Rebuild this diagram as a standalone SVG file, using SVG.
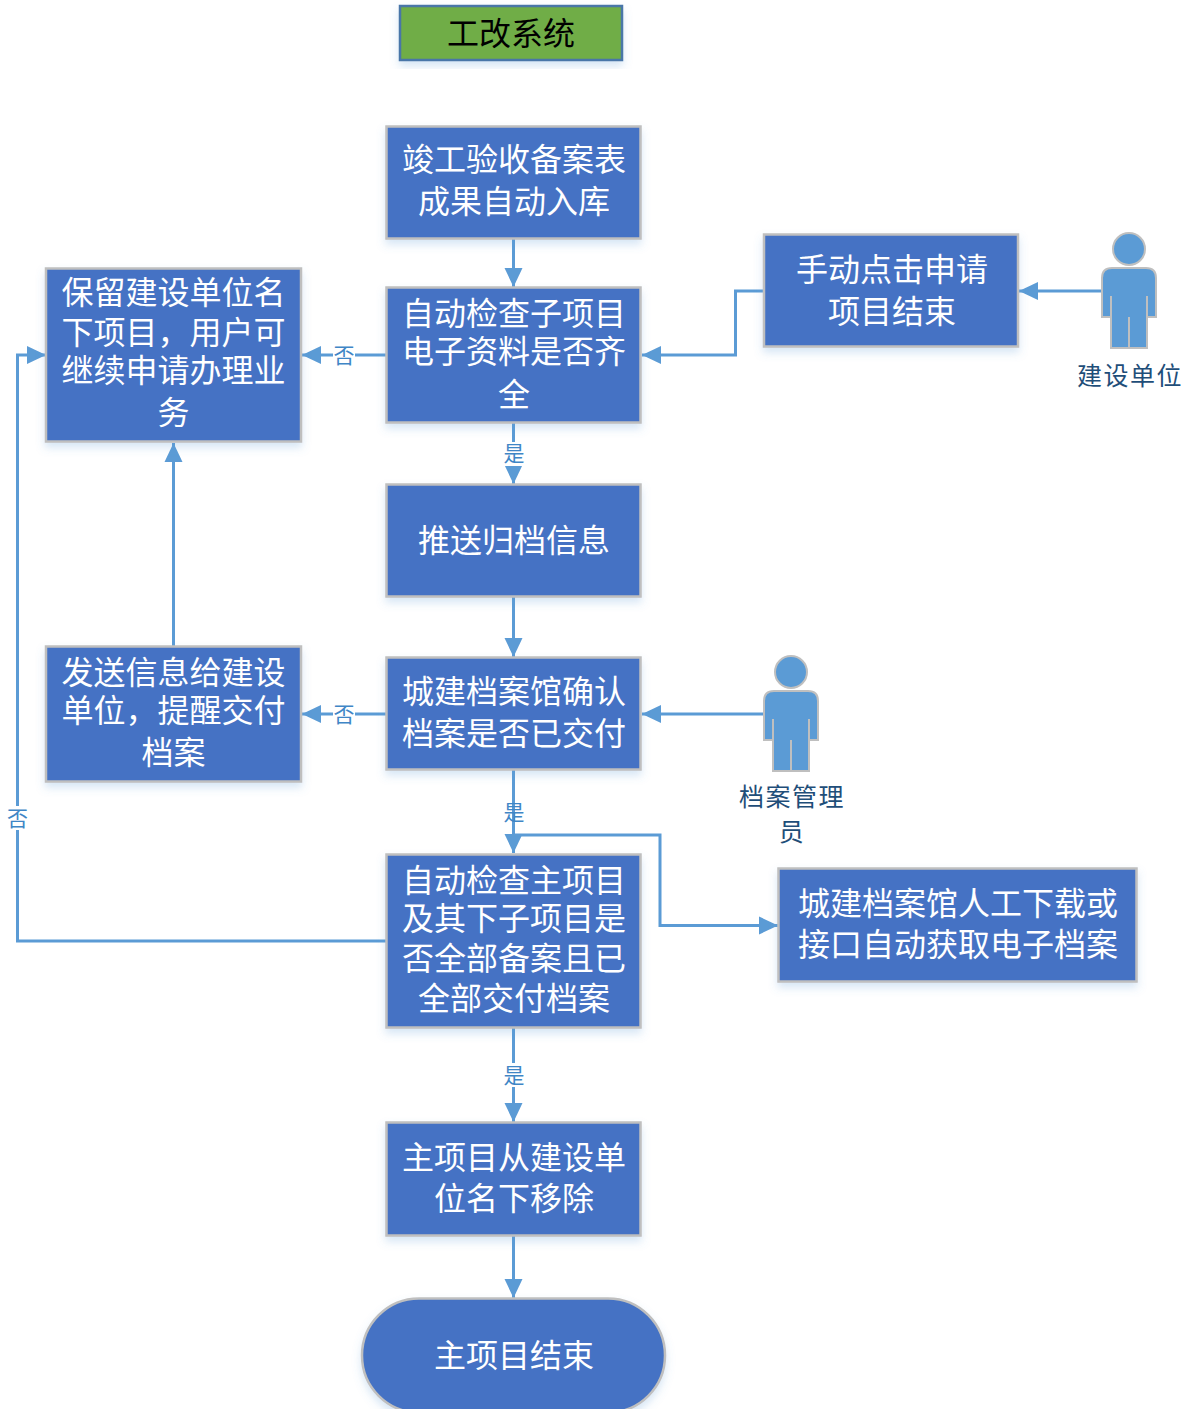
<svg xmlns="http://www.w3.org/2000/svg" width="1185" height="1409" viewBox="0 0 1185 1409">
<style>
text{font-family:"Liberation Sans","Noto Sans CJK SC",sans-serif;text-anchor:middle}
.n{fill:#4472c4;stroke:#bfbfbf;stroke-width:2.5;filter:url(#s)}
.t{fill:#fff;font-size:32px}
.c{fill:none;stroke:#5b9bd5;stroke-width:3;marker-end:url(#a)}
.l{fill:#3f86c6;font-size:21px}
.p{fill:#1f4e79;font-size:25px;letter-spacing:1.500px}
.b{fill:#fff}
.h{fill:#5b9bd5;stroke:#bfbfbf;stroke-width:2}
</style>
<defs>
<filter id="s" x="-10%" y="-10%" width="120%" height="125%"><feDropShadow dx="0" dy="5" stdDeviation="4" flood-color="#5b9bd5" flood-opacity="0.25"/></filter>
<marker id="a" markerUnits="userSpaceOnUse" markerWidth="20" markerHeight="20" refX="19" refY="10" orient="auto"><path d="M0 1 L19 10 L0 19 Z" fill="#5b9bd5"/></marker>
<g id="person"><circle cx="28" cy="14" r="16" class="h"/><path class="h" d="M1 43 Q1 33 11 33 H45 Q55 33 55 43 V82 H46 V113 H10 V82 H1 Z"/><path d="M10 61 V82 M46 61 V82 M28 82 V113" fill="none" stroke="#bfbfbf" stroke-width="2"/></g>
</defs>
<g id="connectors">
<path class="c" d="M513.500 239 V287"/>
<path class="c" d="M764 291 H735.500 V355 H642"/>
<path class="c" d="M1102 291 H1019"/>
<path class="c" d="M387 355 H302"/>
<path class="c" d="M513.500 423 V484"/>
<path class="c" d="M513.500 597 V657"/>
<path class="c" d="M763 714 H642"/>
<path class="c" d="M387 714 H302"/>
<path class="c" d="M173.500 646 V443"/>
<path class="c" d="M513.500 770 V853"/>
<path class="c" d="M513.500 835 H660 V925.500 H778"/>
<path class="c" d="M387 941 H17.500 V355 H46"/>
<path class="c" d="M513.500 1028 V1122"/>
<path class="c" d="M513.500 1236 V1298"/>
<rect class="b" x="333" y="343" width="22" height="24"/><text class="l" x="344" y="363">否</text>
<rect class="b" x="503" y="442" width="22" height="24"/><text class="l" x="514" y="461">是</text>
<rect class="b" x="333" y="702" width="22" height="24"/><text class="l" x="344" y="722">否</text>
<text class="l" x="514" y="820">是</text>
<rect class="b" x="6" y="806" width="22" height="24"/><text class="l" x="17.500" y="826">否</text>
<rect class="b" x="503" y="1063" width="22" height="24"/><text class="l" x="514" y="1083">是</text>
</g>
<g id="title"><rect x="400" y="6" width="222" height="54" fill="#70ad47" stroke="#4a76a8" stroke-width="2.500" filter="url(#s)"/><text x="511" y="45" font-size="32" fill="#000">工改系统</text></g>
<g id="n1"><rect class="n" x="386.500" y="126.500" width="254" height="112"/><text class="t" x="514" y="171">竣工验收备案表</text><text class="t" x="514" y="213">成果自动入库</text></g>
<g id="n2"><rect class="n" x="386.500" y="287.500" width="254" height="135"/><text class="t" x="514" y="325">自动检查子项目</text><text class="t" x="514" y="363">电子资料是否齐</text><text class="t" x="514" y="406">全</text></g>
<g id="n3"><rect class="n" x="764" y="234.500" width="254" height="112"/><text class="t" x="892" y="281">手动点击申请</text><text class="t" x="892" y="323">项目结束</text></g>
<g id="n4"><rect class="n" x="46" y="268.500" width="255" height="173"/><text class="t" x="173.500" y="304">保留建设单位名</text><text class="t" x="173.500" y="344">下项目，用户可</text><text class="t" x="173.500" y="382">继续申请办理业</text><text class="t" x="173.500" y="424">务</text></g>
<g id="n5"><rect class="n" x="386.500" y="484.500" width="254" height="112"/><text class="t" x="514" y="552">推送归档信息</text></g>
<g id="n6"><rect class="n" x="386.500" y="657.500" width="254" height="112"/><text class="t" x="514" y="703">城建档案馆确认</text><text class="t" x="514" y="745">档案是否已交付</text></g>
<g id="n7"><rect class="n" x="46" y="646.500" width="255" height="135"/><text class="t" x="173.500" y="684">发送信息给建设</text><text class="t" x="173.500" y="722">单位，提醒交付</text><text class="t" x="173.500" y="764">档案</text></g>
<g id="n8"><rect class="n" x="386.500" y="854.500" width="254" height="173"/><text class="t" x="514" y="892">自动检查主项目</text><text class="t" x="514" y="930">及其下子项目是</text><text class="t" x="514" y="970">否全部备案且已</text><text class="t" x="514" y="1010">全部交付档案</text></g>
<g id="n9"><rect class="n" x="778.500" y="868.500" width="358" height="113"/><text class="t" x="958" y="915">城建档案馆人工下载或</text><text class="t" x="958" y="956">接口自动获取电子档案</text></g>
<g id="n10"><rect class="n" x="386.500" y="1122.500" width="254" height="113"/><text class="t" x="514" y="1169">主项目从建设单</text><text class="t" x="514" y="1210">位名下移除</text></g>
<g id="n11"><rect class="n" x="362" y="1298.500" width="303" height="114" rx="57" ry="57"/><text class="t" x="514" y="1367">主项目结束</text></g>
<g id="actor1"><use href="#person" x="1101" y="235"/><text class="p" x="1130" y="385">建设单位</text></g>
<g id="actor2"><use href="#person" x="763" y="658"/><text class="p" x="792" y="806">档案管理</text><text class="p" x="792" y="841">员</text></g>
</svg>
